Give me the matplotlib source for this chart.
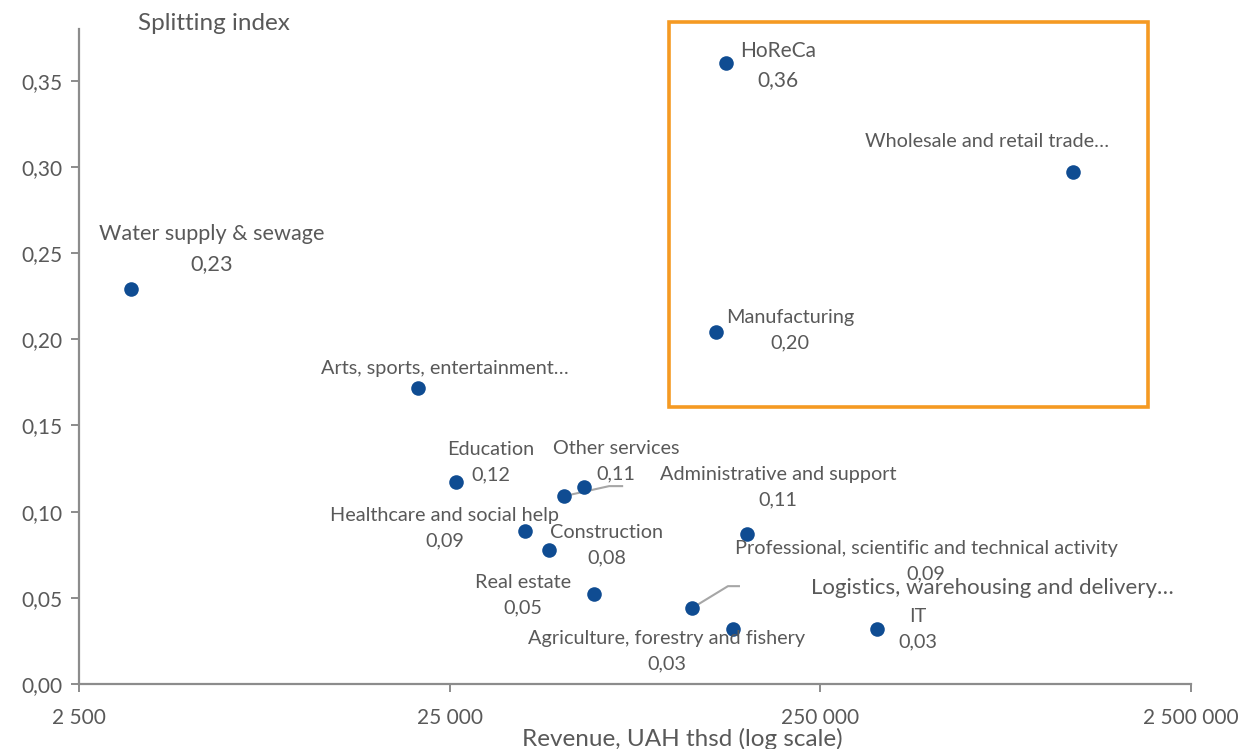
import matplotlib
matplotlib.use("Agg")
import matplotlib.pyplot as plt
from matplotlib.patches import Rectangle
from matplotlib.ticker import FixedLocator, FixedFormatter
import numpy as np

# ---------------- data ----------------
sectors = [
    "Water supply & sewage",
    "Arts, sports, entertainment…",
    "Education",
    "Other services",
    "Administrative and support",
    "Healthcare and social help",
    "Construction",
    "Real estate",
    "Professional, scientific and technical activity",
    "Logistics, warehousing and delivery…",
    "IT",
    "Agriculture, forestry and fishery",
    "HoReCa",
    "Wholesale and retail trade…",
    "Manufacturing",
]
revenue = [3450, 20500, 26000, 50900, 57600, 39900, 46300, 61300,
           158500, 112600, 355500, 145300, 139100, 1201000, 130700]
splitting = [0.229, 0.172, 0.117, 0.109, 0.114, 0.089, 0.078, 0.052,
             0.087, 0.044, 0.032, 0.032, 0.360, 0.297, 0.204]
show_value = [True, False, True, True, True, True, True, True,
              True, False, True, True, True, False, True]

x_ticks = [2500, 25000, 250000, 2500000]
x_tick_labels = ["2 500", "25 000", "250 000", "2 500 000"]
y_ticks = [0.00, 0.05, 0.10, 0.15, 0.20, 0.25, 0.30, 0.35]

# ---------------- layout / style ----------------
W, H = 1250, 749
fig = plt.figure(figsize=(W / 100, H / 100), dpi=100)
plt.rcParams['font.family'] = ['Lato', 'DejaVu Sans']
ax = fig.add_axes([79 / W, 1 - 684 / H, (1191 - 79) / W, (684 - 29) / H])

grey_text = "#595959"
axis_grey = "#8C8C8C"
dot_col = "#0F4C92"

ax.set_xscale("log")
ax.set_xlim(2500, 2500000)
ax.set_ylim(0, 0.38)

ax.scatter(revenue, splitting, s=110, color=dot_col, zorder=3, linewidths=0)

ax.xaxis.set_major_locator(FixedLocator(x_ticks))
ax.xaxis.set_major_formatter(FixedFormatter(x_tick_labels))
ax.xaxis.set_minor_locator(FixedLocator([]))
ax.set_yticks(y_ticks)
ax.set_yticklabels([f"{v:.2f}".replace(".", ",") for v in y_ticks])

for s in ["top", "right"]:
    ax.spines[s].set_visible(False)
for s in ["left", "bottom"]:
    ax.spines[s].set_color(axis_grey)
    ax.spines[s].set_linewidth(1.6)
ax.tick_params(axis="both", colors=axis_grey, labelcolor=grey_text,
               labelsize=15, length=6, width=1.4, direction="out")
ax.tick_params(axis="x", pad=11)
ax.tick_params(axis="y", pad=6)

# text label offsets (pixels, relative to the dot; y down)
label_offsets = {
    "Water supply & sewage": (81, -40),
    "Arts, sports, entertainment…": (27, -19),
    "Education": (35, -20),
    "Other services": (52, -35),
    "Administrative and support": (194, 0),
    "Healthcare and social help": (-80, -2),
    "Construction": (58, -4),
    "Real estate": (-71, 1),
    "Professional, scientific and technical activity": (179, 27),
    "Logistics, warehousing and delivery…": (300, -20),
    "IT": (41, 0),
    "Agriculture, forestry and fishery": (-66, 22),
    "HoReCa": (52, 2),
    "Wholesale and retail trade…": (-86, -31),
    "Manufacturing": (74, -2),
}
label_sizes = {"HoReCa": 15, "Logistics, warehousing and delivery…": 16,
               "Water supply & sewage": 15.6}

for name, xv, yv, sv in zip(sectors, revenue, splitting, show_value):
    dx, dy = label_offsets[name]
    fs = label_sizes.get(name, 14.3)
    txt = name + ("\n" + f"{yv:.2f}".replace(".", ",") if sv else "")
    ax.annotate(txt, (xv, yv), xytext=(dx, -dy), textcoords="offset pixels",
                ha="center", va="center", color=grey_text,
                fontsize=fs, linespacing=1.6, zorder=4)

# leader lines (pixel offsets from dot)
fig.canvas.draw()
leaders = {
    "Other services": [(0, 0), (45, -10), (58, -10)],
    "Logistics, warehousing and delivery…": [(0, 0), (36, -22), (47, -22)],
}
for name, pts in leaders.items():
    i = sectors.index(name)
    px, py = ax.transData.transform((revenue[i], splitting[i]))
    disp = np.array([(px + a, py - b) for a, b in pts])
    data = ax.transData.inverted().transform(disp)
    ax.plot(data[:, 0], data[:, 1], color="#A6A6A6", lw=1.5, zorder=2)

# axis titles
fig.text(214 / W, 1 - 24 / H, "Splitting index", ha="center", va="center",
         color=grey_text, fontsize=17.5)
fig.text(682 / W, 1 - 739 / H, "Revenue, UAH thsd (log scale)", ha="center",
         va="center", color=grey_text, fontsize=17.5)

# highlight box
fig.patches.append(Rectangle((669 / W, 1 - 407 / H), 479 / W, 385 / H,
                             transform=fig.transFigure, fill=False,
                             edgecolor="#F59A23", linewidth=2.6, zorder=5))

fig.savefig("out.png", dpi=100)
